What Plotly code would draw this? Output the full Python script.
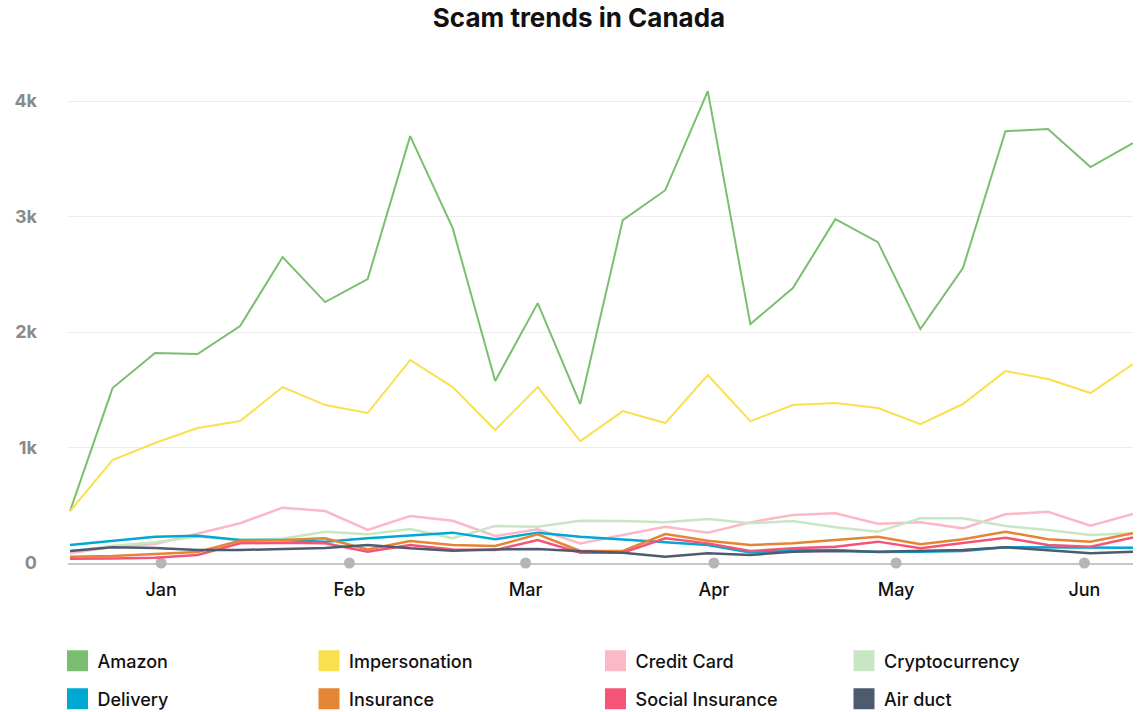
import plotly.graph_objects as go

# ---- data ----
weeks = [
    "2023-12-17", "2023-12-24", "2023-12-31", "2024-01-07", "2024-01-14", "2024-01-21",
    "2024-01-28", "2024-02-04", "2024-02-11", "2024-02-18", "2024-02-25", "2024-03-03",
    "2024-03-10", "2024-03-17", "2024-03-24", "2024-03-31", "2024-04-07", "2024-04-14",
    "2024-04-21", "2024-04-28", "2024-05-05", "2024-05-12", "2024-05-19", "2024-05-26",
    "2024-06-02", "2024-06-09",
]
amazon = [450, 1515, 1818, 1810, 2052, 2650, 2260, 2459, 3697, 2900, 1576, 2251, 1377,
          2970, 3229, 4087, 2069, 2381, 2978, 2779, 2026, 2554, 3740, 3758, 3429, 3636]
impersonation = [450, 892, 1039, 1169, 1229, 1524, 1368, 1299, 1758, 1524, 1152, 1524, 1056,
                 1316, 1212, 1628, 1229, 1368, 1385, 1342, 1203, 1377, 1662, 1593, 1472, 1723]
credit_card = [84, 141, 165, 257, 344, 479, 450, 286, 407, 366, 234, 292, 170,
               242, 314, 263, 352, 416, 430, 340, 352, 300, 422, 444, 323, 424]
cryptocurrency = [100, 150, 180, 230, 200, 210, 270, 250, 294, 214, 320, 314, 366,
                  364, 352, 381, 344, 364, 309, 271, 387, 387, 320, 286, 242, 257]
delivery = [156, 193, 228, 237, 199, 199, 185, 214, 237, 263, 205, 263, 228,
            205, 179, 156, 92, 113, 113, 95, 98, 104, 136, 133, 133, 133]
insurance = [55, 61, 78, 95, 193, 199, 214, 118, 190, 156, 147, 248, 104,
             104, 251, 193, 156, 170, 199, 228, 162, 205, 271, 205, 185, 257]
social_insurance = [37, 38, 46, 69, 170, 176, 170, 98, 156, 118, 113, 199, 89,
                    89, 214, 170, 104, 127, 141, 185, 127, 170, 219, 156, 141, 222]
air_duct = [104, 136, 130, 113, 113, 124, 130, 156, 127, 107, 118, 122, 101,
            89, 55, 84, 69, 98, 104, 98, 104, 113, 136, 113, 84, 98]

series_names = ["Amazon", "Impersonation", "Credit Card", "Cryptocurrency",
                "Delivery", "Insurance", "Social Insurance", "Air duct"]
series_values = [amazon, impersonation, credit_card, cryptocurrency,
                 delivery, insurance, social_insurance, air_duct]

month_ticks = ["2024-01-01", "2024-02-01", "2024-03-01", "2024-04-01", "2024-05-01", "2024-06-01"]
month_labels = ["Jan", "Feb", "Mar", "Apr", "May", "Jun"]
y_ticks = [0, 1000, 2000, 3000, 4000]
y_labels = ["0", "1k", "2k", "3k", "4k"]

# ---- styles ----
colors = ["#7abf6f", "#f9e04f", "#fbb8c6", "#c9e6c4",
          "#00a9d1", "#e48535", "#f55478", "#4e5a6e"]
widths = [2, 2, 2.5, 2.5, 2.5, 2.5, 2.5, 2.5]
FONT = "Inter, 'Noto Sans', sans-serif"

fig = go.Figure()

# month dots on the baseline
fig.add_trace(go.Scatter(
    x=month_ticks, y=[0] * len(month_ticks), mode="markers",
    marker=dict(size=11, color="#b5b5b5"), showlegend=False,
    hoverinfo="skip", cliponaxis=False,
))

for name, vals, c, w in zip(series_names, series_values, colors, widths):
    fig.add_trace(go.Scatter(
        x=weeks, y=vals, mode="lines", name=name,
        line=dict(color=c, width=w), showlegend=False,
    ))

# legend: 2 rows x 4 columns of square swatches
col_left = [57.5, 309, 595.5, 844]
row_center = [661, 699]
legend_layout = {}
for k, (name, c) in enumerate(zip(series_names, colors)):
    lkey = "legend" if k == 0 else f"legend{k + 1}"
    fig.add_trace(go.Scatter(
        x=[None], y=[None], mode="markers", name=name, legend=lkey,
        marker=dict(symbol="square", size=16, color=c, line=dict(color=c, width=5)),
    ))
    row, col = divmod(k, 4)
    legend_layout[lkey] = dict(
        x=col_left[col] / 1145, xref="container", xanchor="left",
        y=1 - row_center[row] / 712, yref="container", yanchor="middle",
        font=dict(family=FONT, size=18, color="#111111", weight=500),
        bgcolor="rgba(0,0,0,0)", borderwidth=0,
    )

fig.update_layout(
    width=1145, height=712,
    margin=dict(l=68, r=12, t=55, b=149, autoexpand=False),
    paper_bgcolor="white", plot_bgcolor="white",
    font=dict(family=FONT, color="#111111"),
    title=dict(
        text="Scam trends in Canada", x=579 / 1145, xref="container", xanchor="center",
        y=1 - 18 / 712, yref="container", yanchor="middle",
        font=dict(family=FONT, size=26, color="#111111", weight="bold"),
    ),
    showlegend=True,
    hovermode="x unified",
    **legend_layout,
)

fig.update_xaxes(
    type="date",
    range=["2023-12-16 16:00", "2024-06-09"],
    tickvals=month_ticks, ticktext=month_labels,
    tickfont=dict(family=FONT, size=18, color="#111111", weight=500),
    showgrid=False, zeroline=False,
    showline=True, linecolor="#c6c6c6", linewidth=2,
    ticks="", ticklabelstandoff=9,
    layer="below traces",
)
fig.update_yaxes(
    range=[0, 4400],
    tickvals=y_ticks, ticktext=y_labels,
    tickfont=dict(family=FONT, size=18, color="#8a8a8a", weight="bold"),
    showgrid=True, gridcolor="#ececec", gridwidth=1,
    zeroline=False, showline=False, ticks="", ticklabelstandoff=30,
)

fig.write_html(
    "out.html",
    config={"displayModeBar": False},
    post_script="document.body.style.margin='0';document.body.style.overflow='hidden';",
)
